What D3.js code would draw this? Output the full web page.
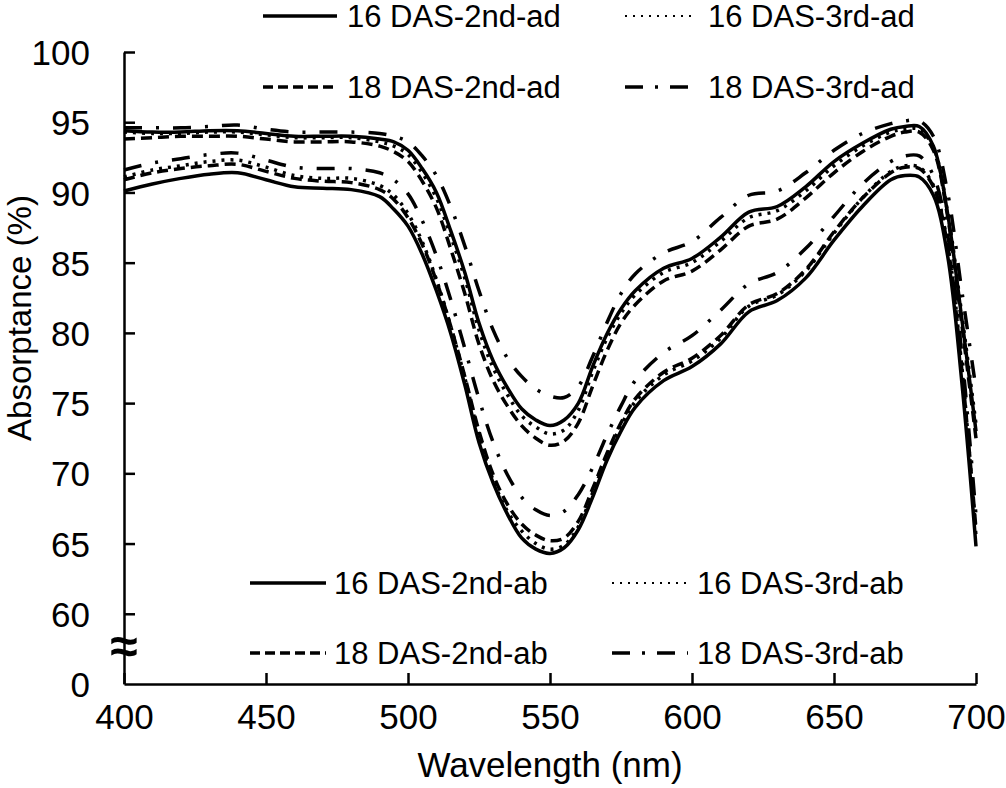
<!DOCTYPE html>
<html>
<head>
<meta charset="utf-8">
<script src="https://cdn.jsdelivr.net/npm/d3@7/dist/d3.min.js"></script>
<style>
  body { margin: 0; background: #fff; }
  svg { display: block; font-family: "Liberation Sans", Arial, sans-serif; }
</style>
</head>
<body>
<div id="chart"></div>
<script>
// wavelength grid (nm)
var wavelengths = [400,410,420,430,440,450,460,470,480,490,
  495,500,505,510,515,520,525,530,535,540,545,550,555,560,565,570,575,580,
  590,600,610,620,630,640,650,660,670,
  675,680,685,690,695,700];

// absorptance (%) per sample
var das16_2nd_ad = [94.4,94.3,94.3,94.4,94.4,94.2,94.0,94.0,94.0,93.8,
  93.6,93.0,91.7,90.0,87.3,84.3,80.7,78.0,76.1,74.6,73.8,73.4,73.8,75.0,77.6,79.9,81.7,83.0,
  84.6,85.3,86.8,88.6,89.0,90.4,92.2,93.5,94.5,
  94.7,94.7,93.3,88.5,81.0,73.0];
var das16_3rd_ad = [94.3,94.2,94.2,94.3,94.3,94.1,93.9,93.9,93.9,93.6,
  93.3,92.7,91.4,89.6,86.9,83.9,80.2,77.5,75.6,74.1,73.3,72.8,73.1,74.5,77.2,79.6,81.4,82.7,
  84.3,85.0,86.5,88.2,88.7,90.1,91.9,93.3,94.3,
  94.5,94.5,93.2,88.6,81.3,73.5];
var das18_2nd_ad = [93.8,93.9,94.0,94.0,94.0,93.8,93.6,93.6,93.6,93.3,
  92.9,92.2,90.8,88.9,86.0,82.8,79.2,76.6,74.8,73.4,72.5,72.0,72.3,73.6,76.2,78.7,80.7,82.0,
  83.7,84.4,85.9,87.6,88.1,89.6,91.4,92.9,94.0,
  94.3,94.3,93.0,88.3,80.6,72.5];
var das18_3rd_ad = [94.6,94.6,94.6,94.7,94.8,94.5,94.3,94.3,94.3,94.2,
  94.0,93.6,92.6,91.2,89.0,86.2,83.0,80.2,78.2,76.9,76.0,75.5,75.4,76.2,78.3,80.7,82.8,84.2,
  85.7,86.5,88.2,89.8,90.1,91.4,93.0,94.2,94.9,
  95.1,95.1,94.0,90.0,83.0,76.0];
var das16_2nd_ab = [90.1,90.6,91.0,91.3,91.4,90.9,90.4,90.3,90.2,89.7,
  88.8,87.6,85.6,83.0,80.0,76.3,72.2,69.3,67.1,65.4,64.6,64.3,64.7,66.0,68.3,70.9,73.0,74.7,
  76.6,77.6,79.2,81.5,82.3,83.9,86.6,89.0,90.9,
  91.2,91.1,89.8,85.5,76.5,64.8];
var das16_3rd_ab = [91.1,91.6,91.9,92.2,92.3,91.8,91.2,91.0,91.0,90.5,
  89.8,88.5,86.5,83.8,80.5,76.8,72.7,69.5,67.3,65.9,65.0,64.6,64.9,66.2,68.6,71.2,73.4,75.1,
  77.0,78.0,79.6,81.9,82.7,84.4,87.1,89.6,91.5,
  91.9,91.8,90.5,86.3,77.6,65.5];
var das18_2nd_ab = [90.9,91.4,91.7,91.9,92.0,91.5,91.0,90.8,90.7,90.2,
  89.5,88.2,86.3,83.7,80.5,76.9,73.0,69.9,67.8,66.4,65.6,65.2,65.4,66.6,68.9,71.4,73.6,75.3,
  77.2,78.2,79.8,82.0,82.8,84.5,87.2,89.6,91.4,
  91.8,91.7,90.4,86.2,77.4,66.0];
var das18_3rd_ab = [91.6,92.1,92.4,92.7,92.8,92.3,91.8,91.7,91.7,91.4,
  90.9,89.9,88.0,85.5,82.4,78.9,75.3,72.2,69.9,68.3,67.4,67.0,67.3,68.5,70.4,72.7,74.8,76.6,
  78.6,79.8,81.6,83.5,84.3,86.0,88.3,90.6,92.2,
  92.6,92.6,91.2,87.0,78.5,67.0];

var xTicks = [400,450,500,550,600,650,700];
var yTicks = [55,60,65,70,75,80,85,90,95,100];   // 55 sits at the axis break, labelled 0

var series = [
  {name: "16 DAS-2nd-ad", values: das16_2nd_ad, style: "solid"},
  {name: "16 DAS-3rd-ad", values: das16_3rd_ad, style: "dot"},
  {name: "18 DAS-2nd-ad", values: das18_2nd_ad, style: "dash"},
  {name: "18 DAS-3rd-ad", values: das18_3rd_ad, style: "dashdot"},
  {name: "16 DAS-2nd-ab", values: das16_2nd_ab, style: "solid"},
  {name: "16 DAS-3rd-ab", values: das16_3rd_ab, style: "dot"},
  {name: "18 DAS-2nd-ab", values: das18_2nd_ab, style: "dash"},
  {name: "18 DAS-3rd-ab", values: das18_3rd_ab, style: "dashdot"}
];

var dashes = {solid: null, dot: "3,6", dash: "11,6", dashdot: "18,14,3,14"};
var legendDashes = {solid: null, dot: "2,6", dash: "10,5", dashdot: "18,12,3,12"};

var W = 1006, H = 788;
var svg = d3.select("#chart").append("svg")
    .attr("width", W).attr("height", H);

var x = d3.scaleLinear().domain([400, 700]).range([124, 976]);
var y = d3.scaleLinear().domain([55, 100]).range([684, 52]);

// axes, ticks pointing inward
var xAxis = d3.axisBottom(x).tickValues(xTicks).tickSizeInner(-11).tickSizeOuter(0).tickPadding(20);
var yAxis = d3.axisLeft(y).tickValues(yTicks).tickSizeInner(-11).tickSizeOuter(0).tickPadding(34)
    .tickFormat(function (d) { return d === 55 ? "0" : d; });

var gx = svg.append("g").attr("transform", "translate(0," + y(55) + ")").call(xAxis);
var gy = svg.append("g").attr("transform", "translate(" + x(400) + ",0)").call(yAxis);

[gx, gy].forEach(function (g) {
    g.select(".domain").attr("stroke", "#000").attr("stroke-width", 2.5);
    g.selectAll(".tick line").attr("stroke", "#000").attr("stroke-width", 2.5);
    g.selectAll(".tick text").attr("fill", "#000").style("font-size", "35px")
        .style("font-family", "'Liberation Sans', Arial, sans-serif");
});
gx.selectAll(".tick text").attr("dy", "0.71em");
gy.selectAll(".tick text").attr("dy", "0.36em").attr("x", -34);
gy.selectAll(".tick").filter(function (d) { return d === 55; }).select("line").remove();

// axis break mark
svg.append("text")
    .attr("x", x(400)).attr("y", y(57.4))
    .attr("text-anchor", "middle").attr("dominant-baseline", "middle")
    .style("font-size", "50px").style("font-weight", "bold")
    .text("\u2248");

// axis titles
svg.append("text")
    .attr("x", x(550)).attr("y", 777)
    .attr("text-anchor", "middle").style("font-size", "35px")
    .text("Wavelength (nm)");
svg.append("text")
    .attr("transform", "translate(31,318) rotate(-90)")
    .attr("text-anchor", "middle").style("font-size", "33px")
    .text("Absorptance (%)");

// spectra
var line = d3.line()
    .x(function (d, i) { return x(wavelengths[i]); })
    .y(function (d) { return y(d); })
    .curve(d3.curveCatmullRom.alpha(0.5));

svg.append("g").selectAll("path").data(series).enter().append("path")
    .attr("d", function (s) { return line(s.values); })
    .attr("fill", "none")
    .attr("stroke", "#000")
    .attr("stroke-width", 3.5)
    .attr("stroke-dasharray", function (s) { return dashes[s.style]; });

// legends: two blocks of 2x2
var legendPos = [
  {x1: 263, x2: 337, tx: 347, y: 16},
  {x1: 625, x2: 697, tx: 708, y: 16},
  {x1: 263, x2: 337, tx: 347, y: 87},
  {x1: 625, x2: 692, tx: 708, y: 87},
  {x1: 250, x2: 326, tx: 334, y: 583},
  {x1: 612, x2: 688, tx: 697, y: 583},
  {x1: 250, x2: 326, tx: 334, y: 653},
  {x1: 612, x2: 688, tx: 697, y: 653}
];
var legendOrder = [0, 1, 2, 3, 4, 5, 6, 7];

var lg = svg.append("g").selectAll("g").data(legendOrder).enter().append("g");
lg.append("line")
    .attr("x1", function (i) { return legendPos[i].x1; })
    .attr("x2", function (i) { return legendPos[i].x2; })
    .attr("y1", function (i) { return legendPos[i].y; })
    .attr("y2", function (i) { return legendPos[i].y; })
    .attr("stroke", "#000")
    .attr("stroke-width", function (i) { return series[i].style === "dot" ? 2 : 3.5; })
    .attr("stroke-dasharray", function (i) { return legendDashes[series[i].style]; });
lg.append("text")
    .attr("x", function (i) { return legendPos[i].tx; })
    .attr("y", function (i) { return legendPos[i].y + 11; })
    .style("font-size", "31px")
    .text(function (i) { return series[i].name; });
</script>
</body>
</html>
